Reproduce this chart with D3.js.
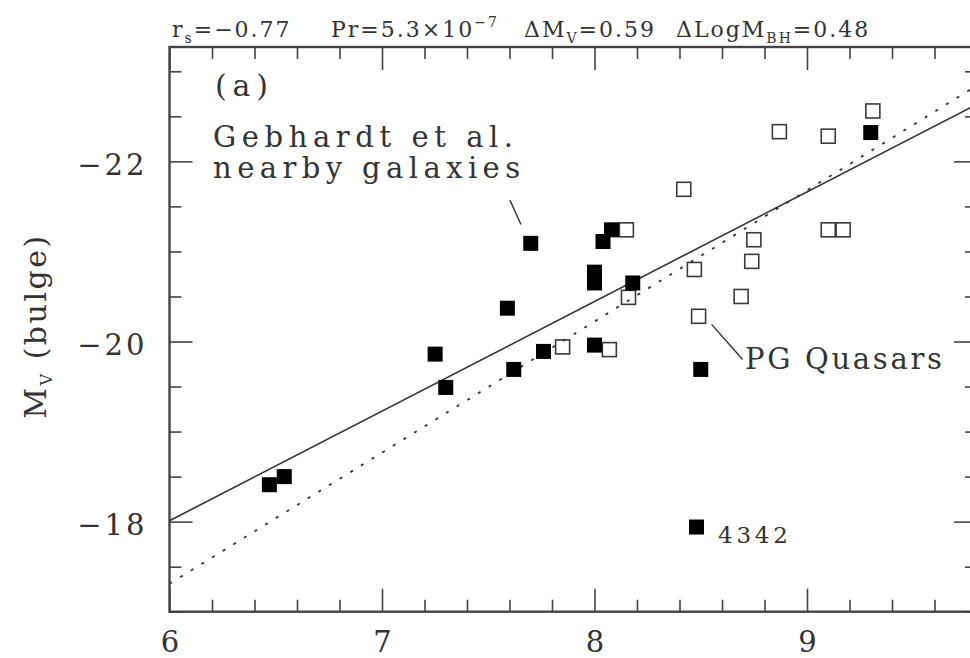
<!DOCTYPE html>
<html>
<head>
<meta charset="utf-8">
<script src="https://cdn.jsdelivr.net/npm/d3@7/dist/d3.min.js"></script>
<style>
  body { margin: 0; background: #fff; overflow: hidden; }
  svg { display: block; overflow: hidden; }
  text { font-family: "DejaVu Serif", serif; fill: #333; }
  .axis path { display: none; }
  .axis line { stroke: #444; stroke-width: 1.6; }
</style>
</head>
<body>
<svg id="chart" width="970" height="658"></svg>
<script>
// Gebhardt et al. nearby galaxies (filled squares)
let gal_logm = [6.47, 6.54, 7.25, 7.30, 7.62, 7.76, 7.70, 7.59, 8.00, 8.00, 8.00, 8.04, 8.08, 8.18, 8.50, 9.30, 8.48]
let gal_mv   = [-18.41, -18.50, -19.86, -19.49, -19.69, -19.89, -21.09, -20.37, -20.77, -20.65, -19.96, -21.11, -21.24, -20.65, -19.69, -22.32, -17.94]

// PG quasars (open squares)
let pg_logm = [9.31, 8.87, 9.10, 8.42, 8.15, 9.10, 9.17, 8.75, 8.74, 8.47, 8.69, 8.49, 8.16, 8.07, 7.85]
let pg_mv   = [-22.56, -22.33, -22.28, -21.69, -21.24, -21.24, -21.24, -21.13, -20.89, -20.80, -20.50, -20.28, -20.49, -19.91, -19.94]

// fits: M_V = intercept + slope * (logM - 6)
let fit_names      = ["solid", "dotted"]
let fit_intercepts = [-18.01, -17.31]
let fit_slopes     = [-1.217, -1.456]

let x_major = [6, 7, 8, 9]
let y_major = [-18, -20, -22]

let x_domain = [6, 9.8]
let y_domain = [-17, -23.27]

function make_scales() {
  return {
    x: d3.scaleLinear().domain(x_domain).range([169.5, 977]),
    y: d3.scaleLinear().domain(y_domain).range([611.7, 47])
  }
}

function draw_frame(svg, s) {
  let [x0, x1] = s.x.range()
  let [y0, y1] = s.y.range()
  let x_minor = d3.range(6, 9.81, 0.2).filter(v => !x_major.some(m => Math.abs(m - v) < 1e-6))
  let y_minor = d3.range(-17, -23.3, -0.5).filter(v => !y_major.some(m => Math.abs(m - v) < 1e-6))

  // bottom, with labels
  svg.append("g").attr("class", "axis").attr("transform", `translate(0,${y0})`)
    .call(d3.axisBottom(s.x).tickValues(x_major).tickSize(-23).tickPadding(20).tickFormat(d3.format("d")))
    .selectAll("text").attr("font-size", 29).attr("fill", "#333")
    .style("font-family", "'DejaVu Serif', serif")
  svg.append("g").attr("class", "axis").attr("transform", `translate(0,${y0})`)
    .call(d3.axisBottom(s.x).tickValues(x_minor).tickSize(-12).tickFormat(""))

  // top
  svg.append("g").attr("class", "axis").attr("transform", `translate(0,${y1})`)
    .call(d3.axisTop(s.x).tickValues(x_major).tickSize(-23).tickFormat(""))
  svg.append("g").attr("class", "axis").attr("transform", `translate(0,${y1})`)
    .call(d3.axisTop(s.x).tickValues(x_minor).tickSize(-12).tickFormat(""))

  // left, with labels
  svg.append("g").attr("class", "axis").attr("transform", `translate(${x0},0)`)
    .call(d3.axisLeft(s.y).tickValues(y_major).tickSize(-23).tickPadding(22).tickFormat(d3.format("d")))
    .selectAll("text").attr("font-size", 29).attr("dy", "0.45em").attr("fill", "#333")
    .attr("letter-spacing", 3)
    .style("font-family", "'DejaVu Serif', serif")
  svg.append("g").attr("class", "axis").attr("transform", `translate(${x0},0)`)
    .call(d3.axisLeft(s.y).tickValues(y_minor).tickSize(-12).tickFormat(""))

  // right
  svg.append("g").attr("class", "axis").attr("transform", `translate(${x1},0)`)
    .call(d3.axisRight(s.y).tickValues(y_major).tickSize(-23).tickFormat(""))
  svg.append("g").attr("class", "axis").attr("transform", `translate(${x1},0)`)
    .call(d3.axisRight(s.y).tickValues(y_minor).tickSize(-12).tickFormat(""))

  svg.append("rect")
    .attr("x", x0).attr("y", y1)
    .attr("width", x1 - x0).attr("height", y0 - y1)
    .attr("fill", "none").attr("stroke", "#444").attr("stroke-width", 2.4)
}

function draw_fits(svg, s) {
  let line = d3.line().x(d => s.x(d[0])).y(d => s.y(d[1]))
  fit_names.forEach((name, i) => {
    let pts = x_domain.map(v => [v, fit_intercepts[i] + fit_slopes[i] * (v - 6)])
    svg.append("path")
      .attr("d", line(pts))
      .attr("fill", "none")
      .attr("stroke", "#333")
      .attr("stroke-width", name == "solid" ? 1.6 : 1.8)
      .attr("stroke-dasharray", name == "solid" ? null : "3,9.5")
  })
}

function draw_points(svg, s) {
  let gal = gal_logm.map((v, i) => [v, gal_mv[i]])
  let pg = pg_logm.map((v, i) => [v, pg_mv[i]])

  svg.append("g").selectAll("rect")
    .data(pg).enter()
    .append("rect")
    .attr("x", d => s.x(d[0]) - 7)
    .attr("y", d => s.y(d[1]) - 7)
    .attr("width", 14).attr("height", 14)
    .attr("fill", "none").attr("stroke", "#3a3a3a").attr("stroke-width", 1.6)

  svg.append("g").selectAll("rect")
    .data(gal).enter()
    .append("rect")
    .attr("x", d => s.x(d[0]) - 7.5)
    .attr("y", d => s.y(d[1]) - 7.5)
    .attr("width", 15).attr("height", 15)
    .attr("fill", "#000")
}

function draw_notes(svg, s) {
  let notes = [
    { text: "(a)", x: 6.214, y: -22.73, size: 30, len: 53 },
    { text: "Gebhardt et al.", x: 6.205, y: -22.163, size: 29, len: 300 },
    { text: "nearby galaxies", x: 6.205, y: -21.82, size: 29, len: 307 },
    { text: "PG Quasars", x: 8.708, y: -19.69, size: 29, len: 197 },
    { text: "4342", x: 8.581, y: -17.76, size: 23, len: 70 }
  ]
  svg.append("g").selectAll("text")
    .data(notes).enter()
    .append("text")
    .attr("x", d => s.x(d.x))
    .attr("y", d => s.y(d.y))
    .attr("font-size", d => d.size)
    .attr("textLength", d => d.len)
    .attr("lengthAdjust", "spacing")
    .text(d => d.text)

  let leaders = [
    [[7.602, -21.57], [7.654, -21.30]],
    [[8.551, -20.19], [8.697, -19.80]]
  ]
  svg.append("g").selectAll("line")
    .data(leaders).enter()
    .append("line")
    .attr("x1", d => s.x(d[0][0])).attr("y1", d => s.y(d[0][1]))
    .attr("x2", d => s.x(d[1][0])).attr("y2", d => s.y(d[1][1]))
    .attr("stroke", "#333").attr("stroke-width", 1.4)
}

function draw_header(svg) {
  // stats line above the frame
  let parts = [
    { x: 172, segs: [["r", 0], ["s", 1], ["=\u22120.77", 0]] },
    { x: 331, segs: [["Pr=5.3\u00d710", 0], ["\u22127", 2]] },
    { x: 524, segs: [["\u0394M", 0], ["V", 1], ["=0.59", 0]] },
    { x: 676, segs: [["\u0394LogM", 0], ["BH", 1], ["=0.48", 0]] }
  ]
  parts.forEach(p => {
    let t = svg.append("text").attr("x", p.x).attr("y", 37)
      .attr("font-size", 22).attr("letter-spacing", 2)
    let shift = 0
    p.segs.forEach(([str, kind]) => {
      let target = kind == 1 ? 6 : kind == 2 ? -10 : 0
      t.append("tspan")
        .attr("dy", target - shift)
        .attr("font-size", kind ? 14 : 22)
        .text(str)
      shift = target
    })
  })

  // y axis title
  let yl = svg.append("text")
    .attr("transform", "translate(46,326) rotate(-90)")
    .attr("text-anchor", "middle")
    .attr("font-size", 30)
    .attr("letter-spacing", 2.5)
  yl.append("tspan").text("M")
  yl.append("tspan").attr("dy", 6).attr("font-size", 16).text("V")
  yl.append("tspan").attr("dy", -6).text(" (bulge)")
}

function visualize() {
  let svg = d3.select("#chart")
  let scales = make_scales()
  draw_fits(svg, scales)
  draw_points(svg, scales)
  draw_frame(svg, scales)
  draw_notes(svg, scales)
  draw_header(svg)
}

visualize()
</script>
</body>
</html>
